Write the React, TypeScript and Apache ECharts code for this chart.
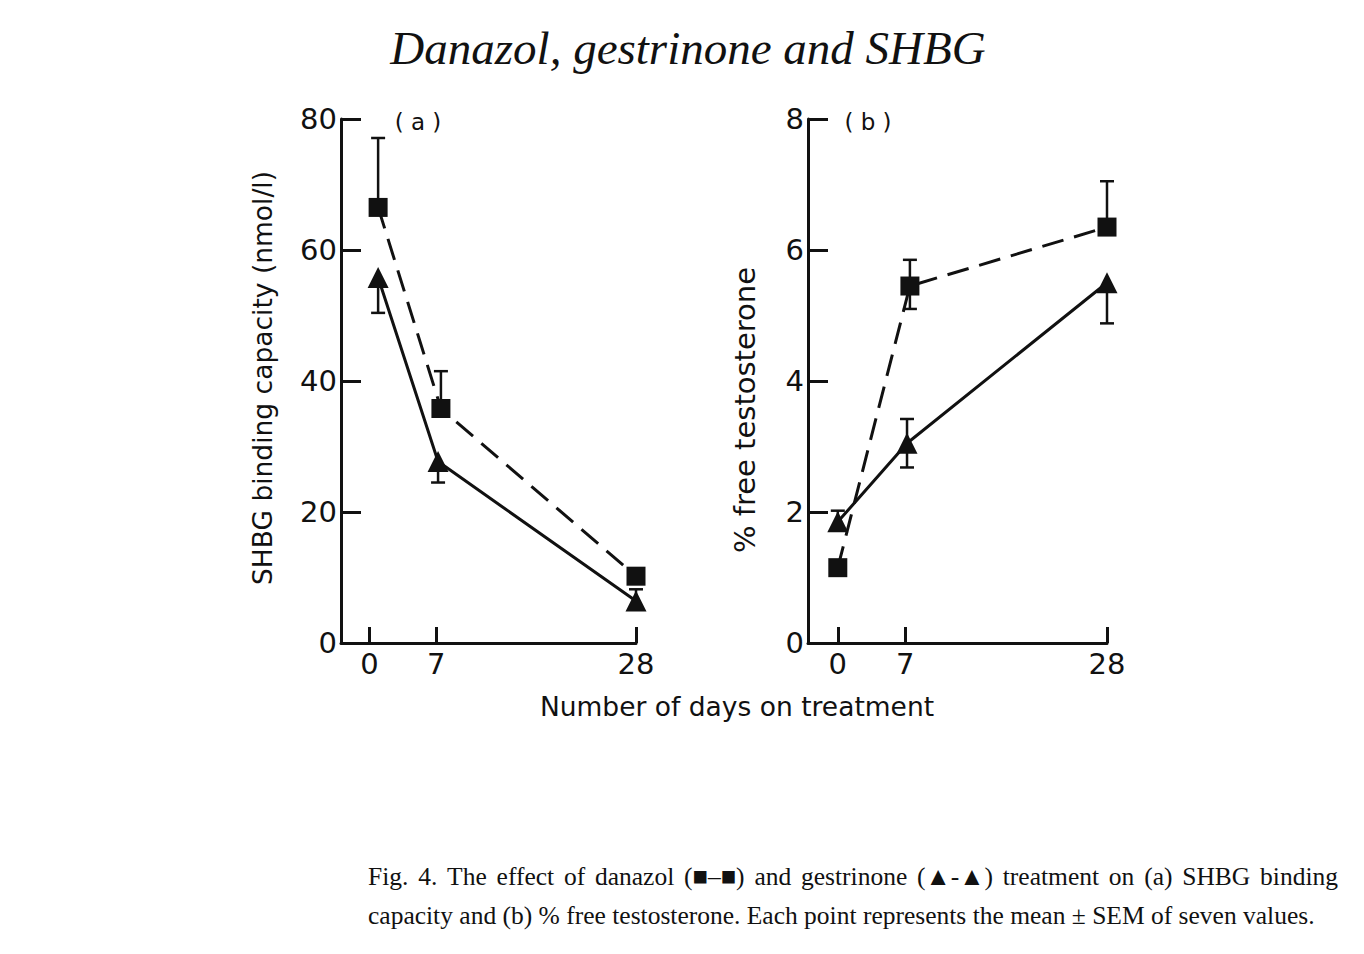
import React, { useEffect, useRef } from "react";
import * as echarts from "echarts";

// Days on which samples were taken (tick marks on both x axes)
const dayTicks = [0, 7, 28];

// Panel (a): SHBG binding capacity (nmol/l)
const shbgDanazolDays = [0.9, 7.5, 28];
const shbgDanazol = [66.5, 35.8, 10.2];
const shbgDanazolHigh = [77.1, 41.5, null];
const shbgDanazolLow = [null, null, null];

const shbgGestrinoneDays = [0.9, 7.2, 28];
const shbgGestrinone = [55.8, 27.7, 6.4];
const shbgGestrinoneHigh = [null, null, 8.2];
const shbgGestrinoneLow = [50.4, 24.5, null];

// Panel (b): % free testosterone
const ftDanazolDays = [0, 7.5, 28];
const ftDanazol = [1.15, 5.45, 6.35];
const ftDanazolHigh = [null, 5.85, 7.05];
const ftDanazolLow = [null, 5.1, null];

const ftGestrinoneDays = [0, 7.2, 28];
const ftGestrinone = [1.85, 3.05, 5.5];
const ftGestrinoneHigh = [2.02, 3.42, null];
const ftGestrinoneLow = [null, 2.68, 4.88];

const captionLine1 =
  "Fig. 4. The effect of danazol (\u25A0\u2013\u25A0) and gestrinone (\u25B2-\u25B2) treatment on (a) SHBG binding";
const captionLine2 =
  "capacity and (b) % free testosterone. Each point represents the mean \u00B1 SEM of seven values.";

const INK = "#111";
const SANS = "DejaVu Sans";
const SERIF = "Liberation Serif";

function pairs(days: number[], vals: number[]) {
  return days.map((d, i) => [d, vals[i]]);
}

// One-sided or two-sided SEM bars drawn with a custom series
function errorBars(
  axis: number,
  days: number[],
  mean: number[],
  low: (number | null)[],
  high: (number | null)[]
) {
  const data = days.map((d, i) => [
    d,
    mean[i],
    low[i] ?? mean[i],
    high[i] ?? mean[i],
    low[i] != null ? 1 : 0,
    high[i] != null ? 1 : 0,
  ]);
  return {
    type: "custom",
    xAxisIndex: axis,
    yAxisIndex: axis,
    z: 1,
    silent: true,
    encode: { x: 0, y: [1, 2, 3] },
    data,
    renderItem: (_params: any, api: any) => {
      const x = api.value(0);
      const c = api.coord([x, api.value(1)]);
      const children: any[] = [];
      const cap = 7;
      const style = { stroke: INK, lineWidth: 2.5 };
      const addBar = (v: number) => {
        const p = api.coord([x, v]);
        children.push({ type: "line", shape: { x1: c[0], y1: c[1], x2: p[0], y2: p[1] }, style });
        children.push({ type: "line", shape: { x1: p[0] - cap, y1: p[1], x2: p[0] + cap, y2: p[1] }, style });
      };
      if (api.value(4)) addBar(api.value(2));
      if (api.value(5)) addBar(api.value(3));
      return { type: "group", children };
    },
  };
}

function xAxis(grid: number, min: number) {
  return {
    type: "value",
    gridIndex: grid,
    min,
    max: 28,
    axisLine: { show: true, onZero: false, lineStyle: { color: INK, width: 3 } },
    axisTick: {
      show: true,
      inside: true,
      length: 16,
      customValues: dayTicks,
      lineStyle: { color: INK, width: 3 },
    },
    axisLabel: {
      customValues: dayTicks,
      color: INK,
      fontFamily: SANS,
      fontSize: 29,
      margin: 6,
    },
    splitLine: { show: false },
  };
}

function yAxis(grid: number, max: number, interval: number) {
  return {
    type: "value",
    gridIndex: grid,
    min: 0,
    max,
    interval,
    axisLine: { show: true, onZero: false, lineStyle: { color: INK, width: 3 } },
    axisTick: { show: true, inside: true, length: 20, lineStyle: { color: INK, width: 3 } },
    axisLabel: { color: INK, fontFamily: SANS, fontSize: 29, margin: 4 },
    splitLine: { show: false },
  };
}

function lineSeries(axis: number, days: number[], vals: number[], dashed: boolean) {
  return {
    type: "line",
    xAxisIndex: axis,
    yAxisIndex: axis,
    z: 2,
    data: pairs(days, vals),
    symbol: dashed ? "rect" : "triangle",
    symbolSize: dashed ? 19 : 21,
    itemStyle: { color: INK },
    lineStyle: {
      color: INK,
      width: 3,
      type: dashed ? [22, 11] : "solid",
    },
  };
}

// Spread the words of a caption line evenly over a given width
function justified(text: string, font: string, x0: number, width: number, y: number) {
  const ctx = document.createElement("canvas").getContext("2d")!;
  ctx.font = font;
  const words = text.split(" ");
  const widths = words.map((w) => ctx.measureText(w).width);
  const total = widths.reduce((s, w) => s + w, 0);
  const gap = (width - total) / (words.length - 1);
  let x = x0;
  return words.map((w, i) => {
    const el = {
      type: "text",
      x,
      y,
      style: { text: w, font, fill: INK, verticalAlign: "middle" },
    };
    x += widths[i] + gap;
    return el;
  });
}

export default function App() {
  const ref = useRef<HTMLDivElement>(null);

  useEffect(() => {
    document.body.style.margin = "0";
    const chart = echarts.init(ref.current!, null, { renderer: "svg" });
    const captionFont = `25.5px "${SERIF}"`;
    chart.setOption({
      animation: false,
      backgroundColor: "#fff",
      grid: [
        { left: 341, top: 119, width: 295, height: 524 },
        { left: 808, top: 119, width: 299, height: 524 },
      ],
      xAxis: [xAxis(0, -3), xAxis(1, -3.1)],
      yAxis: [yAxis(0, 80, 20), yAxis(1, 8, 2)],
      series: [
        errorBars(0, shbgDanazolDays, shbgDanazol, shbgDanazolLow, shbgDanazolHigh),
        errorBars(0, shbgGestrinoneDays, shbgGestrinone, shbgGestrinoneLow, shbgGestrinoneHigh),
        lineSeries(0, shbgDanazolDays, shbgDanazol, true),
        lineSeries(0, shbgGestrinoneDays, shbgGestrinone, false),
        errorBars(1, ftDanazolDays, ftDanazol, ftDanazolLow, ftDanazolHigh),
        errorBars(1, ftGestrinoneDays, ftGestrinone, ftGestrinoneLow, ftGestrinoneHigh),
        lineSeries(1, ftDanazolDays, ftDanazol, true),
        lineSeries(1, ftGestrinoneDays, ftGestrinone, false),
      ],
      graphic: [
        {
          type: "text",
          x: 688,
          y: 48,
          style: {
            text: "Danazol, gestrinone and SHBG",
            font: `italic 47px "${SERIF}"`,
            fill: INK,
            align: "center",
            verticalAlign: "middle",
          },
        },
        {
          type: "text",
          x: 262,
          y: 378,
          rotation: Math.PI / 2,
          style: {
            text: "SHBG binding capacity (nmol/l)",
            font: `26.5px "${SANS}"`,
            fill: INK,
            align: "center",
            verticalAlign: "middle",
          },
        },
        {
          type: "text",
          x: 745,
          y: 410,
          rotation: Math.PI / 2,
          style: {
            text: "% free testosterone",
            font: `29px "${SANS}"`,
            fill: INK,
            align: "center",
            verticalAlign: "middle",
          },
        },
        {
          type: "text",
          x: 418,
          y: 122,
          style: { text: "( a )", font: `23px "${SANS}"`, fill: INK, align: "center", verticalAlign: "middle" },
        },
        {
          type: "text",
          x: 868,
          y: 122,
          style: { text: "( b )", font: `23px "${SANS}"`, fill: INK, align: "center", verticalAlign: "middle" },
        },
        {
          type: "text",
          x: 737,
          y: 706,
          style: {
            text: "Number of days on treatment",
            font: `26.5px "${SANS}"`,
            fill: INK,
            align: "center",
            verticalAlign: "middle",
          },
        },
        ...justified(captionLine1, captionFont, 368, 970, 876),
        {
          type: "text",
          x: 368,
          y: 915,
          style: { text: captionLine2, font: captionFont, fill: INK, verticalAlign: "middle" },
        },
      ],
    });
    return () => chart.dispose();
  }, []);

  return <div ref={ref} style={{ width: 1364, height: 954 }} />;
}
